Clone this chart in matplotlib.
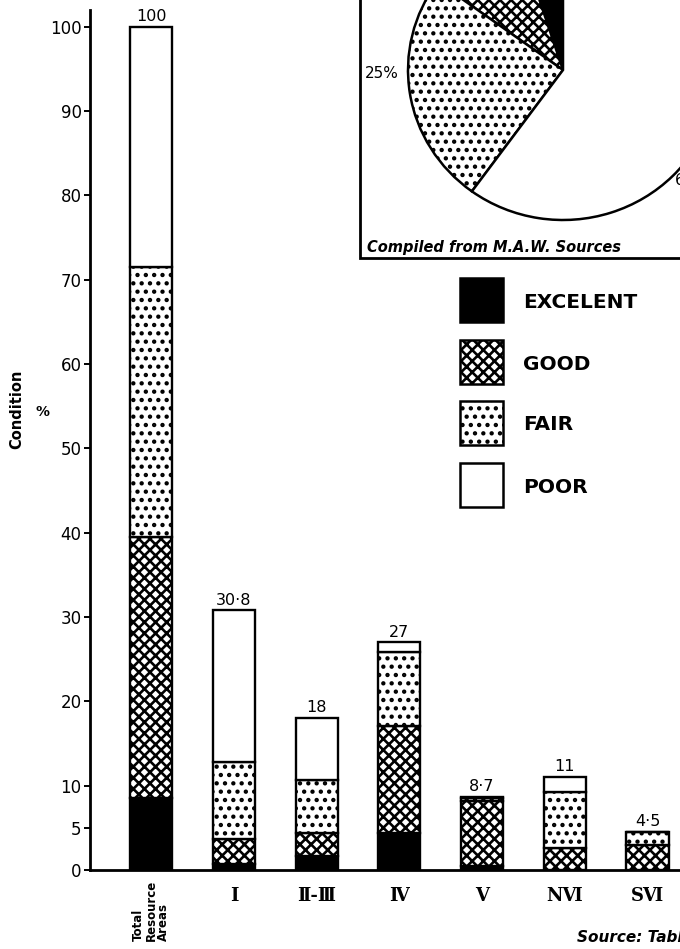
import matplotlib
matplotlib.use("Agg")
import matplotlib.pyplot as plt
from matplotlib.patches import Rectangle

plt.rcParams['font.family'] = 'DejaVu Sans'
plt.rcParams['hatch.linewidth'] = 1.9

# Range condition by resource area, stacked bottom to top
areas = ["Total\nResource\nAreas", "Ⅰ", "Ⅱ-Ⅲ", "Ⅳ", "Ⅴ", "NⅥ", "SⅥ"]
excellent = [8.5, 0.7, 1.7, 4.4, 0.5, 0.0, 0.0]
good = [31.0, 3.0, 2.7, 12.7, 7.7, 2.6, 3.0]
fair = [32.0, 9.1, 6.3, 8.7, 0.3, 6.7, 1.5]
poor = [28.5, 18.0, 7.3, 1.2, 0.2, 1.7, 0.0]

# Overall condition shown in the inset pie (%)
pie_share = [5, 10, 25, 60]
pie_labels = ["25%", "60%"]

conditions = ["EXCELENT", "GOOD", "FAIR", "POOR"]
fills = ["black", "white", "white", "white"]
hatches = ["", "xxx", "..", ""]

W, H = 680, 949
fig = plt.figure(figsize=(W / 100, H / 100), dpi=100)


def px(x, y, w=0, h=0):
    # pixel box (top-left origin) -> figure fraction rect
    return [x / W, 1 - (y + h) / H, w / W, h / H]


ax = fig.add_axes(px(90, 10, 632, 860))
ax.set_facecolor("none")

x = list(range(len(areas)))
bottom = [0.0] * len(areas)
for vals, fc, ht in zip([excellent, good, fair, poor], fills, hatches):
    ax.bar(x, vals, width=0.51, bottom=bottom, color=fc, hatch=ht,
           edgecolor="black", linewidth=1.7, zorder=3)
    bottom = [b + v for b, v in zip(bottom, vals)]

# totals above each bar
for i, tot in enumerate(bottom):
    txt = f"{tot:g}".replace(".", "·")
    ax.annotate(txt, xy=(i, tot), xytext=(0, 2), textcoords="offset points",
                ha="center", va="bottom", fontsize=11.5)

ax.set_xlim(-0.74, 6.9)
ax.set_ylim(0, 102)
ax.set_yticks([0, 5, 10, 20, 30, 40, 50, 60, 70, 80, 90, 100])
ax.tick_params(axis="y", length=4.5, width=1.4, pad=1.5, labelsize=12)
ax.set_xticks([])
for s in ["top", "right"]:
    ax.spines[s].set_visible(False)
ax.spines["left"].set_linewidth(2)
ax.spines["bottom"].set_linewidth(2)

# area names under the bars
ax.annotate(areas[0], xy=(0, 0), xycoords=("data", "axes fraction"),
            xytext=(0, -7), textcoords="offset points", rotation=90,
            ha="center", va="top", multialignment="left",
            fontsize=8.5, fontweight="bold", linespacing=0.95)
for i in range(1, len(areas)):
    ax.annotate(areas[i], xy=(i, 0), xycoords=("data", "axes fraction"),
                xytext=(0, -19), textcoords="offset points",
                ha="center", va="center", fontsize=13,
                family="DejaVu Serif", fontweight="bold")

fig.text(17 / W, 1 - 409 / H, "Condition", rotation=90, ha="center",
         va="center", fontsize=10.5, fontweight="bold")
fig.text(42 / W, 1 - 412 / H, "%", ha="center", va="center",
         fontsize=10, fontweight="bold")

# inset pie
pax = fig.add_axes(px(408, -80, 310, 300))
pax.pie(pie_share, colors=fills, hatch=hatches, startangle=90,
        counterclock=True,
        wedgeprops=dict(edgecolor="black", linewidth=1.8))
pax.set_aspect("auto")
pax.set_xlim(-1, 1)
pax.set_ylim(-1, 1)

# overlay in pixel units for the box, legend and notes
ov = fig.add_axes([0, 0, 1, 1])
ov.set_xlim(0, W)
ov.set_ylim(H, 0)
ov.axis("off")

ov.add_patch(Rectangle((360, -20), 400, 278, fill=False, edgecolor="black",
                       linewidth=2))
ov.text(365, 73, pie_labels[0], ha="left", va="center", fontsize=11)
ov.text(675, 180, pie_labels[1], ha="left", va="center", fontsize=11)
ov.text(367, 247, "Compiled from M.A.W. Sources", ha="left", va="center",
        fontsize=10.5, fontweight="bold", style="italic")

legend_top = [278, 340, 401, 463]
for top, name, fc, ht in zip(legend_top, conditions, fills, hatches):
    ov.add_patch(Rectangle((460, top), 43, 44, facecolor=fc, hatch=ht,
                           edgecolor="black", linewidth=1.8))
    ov.text(523, top + 24, name, ha="left", va="center", fontsize=14.5,
            fontweight="bold")

ov.text(577, 938, "Source: Tables", ha="left", va="center", fontsize=11,
        fontweight="bold", style="italic")

fig.savefig("out.png", dpi=100)
